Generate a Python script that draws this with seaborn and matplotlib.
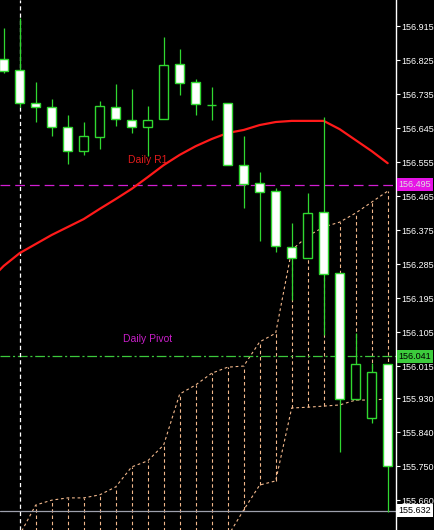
import matplotlib
matplotlib.use('Agg')
import matplotlib.pyplot as plt
import matplotlib.transforms as mtransforms
import seaborn as sns
import pandas as pd

# candles (H1 bars), prices
bars = list(range(25))
opens = [156.828, 156.799, 156.711, 156.701, 156.648, 156.584, 156.621, 156.701, 156.666, 156.648,
         156.669, 156.814, 156.767, 156.706, 156.711, 156.547, 156.499, 156.478, 156.330, 156.301,
         156.423, 156.261, 155.928, 155.877, 156.020]
highs = [156.910, 156.936, 156.767, 156.722, 156.679, 156.661, 156.717, 156.761, 156.748, 156.703,
         156.886, 156.854, 156.775, 156.754, 156.711, 156.624, 156.528, 156.486, 156.394, 156.473,
         156.674, 156.261, 156.102, 156.023, 156.020]
lows = [156.791, 156.701, 156.661, 156.624, 156.550, 156.574, 156.589, 156.650, 156.632, 156.571,
        156.669, 156.732, 156.679, 156.666, 156.547, 156.433, 156.346, 156.317, 156.190, 156.301,
        156.097, 155.787, 155.928, 155.864, 155.628]
closes = [156.796, 156.711, 156.701, 156.648, 156.584, 156.624, 156.703, 156.669, 156.648, 156.666,
          156.812, 156.764, 156.709, 156.706, 156.547, 156.497, 156.476, 156.333, 156.301, 156.420,
          156.259, 155.928, 156.020, 155.999, 155.750]

# moving average (starts one bar before the first visible candle)
ma_bars = list(range(-1, 25))
ma = [156.237, 156.280, 156.314, 156.338, 156.362, 156.383, 156.404, 156.431, 156.457, 156.484,
      156.515, 156.547, 156.574, 156.597, 156.616, 156.632, 156.640, 156.653, 156.661, 156.664,
      156.664, 156.664, 156.642, 156.613, 156.584, 156.552]

# ichimoku cloud edges
cloud_top = [155.500, 155.568, 155.647, 155.660, 155.666, 155.666, 155.674, 155.695, 155.748, 155.764,
             155.806, 155.941, 155.965, 155.996, 156.012, 156.015, 156.079, 156.102, 156.322, 156.359,
             156.383, 156.396, 156.420, 156.449, 156.478]
cloud_bottom = [155.450, 155.450, 155.450, 155.450, 155.450, 155.450, 155.450, 155.450, 155.450, 155.450,
                155.460, 155.480, 155.500, 155.530, 155.564, 155.634, 155.700, 155.711, 155.904, 155.906,
                155.909, 155.912, 155.925, 155.925, 155.928]

price_ticks = [156.915, 156.825, 156.735, 156.645, 156.555, 156.465, 156.375, 156.285, 156.195,
               156.105, 156.015, 155.930, 155.840, 155.750, 155.660]
tick_labels = ['156.915', '156.825', '156.735', '156.645', '156.555', '156.465', '156.375', '156.285',
               '156.195', '156.105', '156.015', '155.930', '155.840', '155.750', '155.660']

daily_r1 = 156.495
daily_pivot = 156.041
bid = 155.632
day_start = 1

df = pd.DataFrame({'bar': bars, 'open': opens, 'high': highs, 'low': lows, 'close': closes})
df['body_low'] = df[['open', 'close']].min(axis=1)
df['body_h'] = (df['open'] - df['close']).abs()
df['fill'] = ['white' if c < o else 'black' for o, c in zip(df['open'], df['close'])]

sns.set_theme(style='dark', rc={'axes.facecolor': 'black', 'figure.facecolor': 'black',
                                'lines.scale_dashes': False})
plt.rcParams['font.family'] = ['Liberation Sans', 'DejaVu Sans']

fig = plt.figure(figsize=(4.35, 5.30), dpi=100)
ax = fig.add_axes([0, 0, 396 / 435, 1])
ax.set_facecolor('black')

cloud_col = '#f2b88c'
green = '#30d830'

# cloud hatch + edges
ax.vlines(bars, cloud_bottom, cloud_top, colors=cloud_col, linestyles=(0, (2.5, 2)), lw=0.8, zorder=1)
sns.lineplot(x=bars, y=cloud_top, color=cloud_col, lw=0.8, linestyle=(0, (2, 2)), ax=ax, zorder=1)
sns.lineplot(x=bars, y=cloud_bottom, color=cloud_col, lw=0.8, linestyle=(0, (2, 2)), ax=ax, zorder=1)

# levels
ax.axhline(daily_r1, color='#d21ed2', lw=0.9, ls=(0, (7, 3.6)), zorder=2)
ax.axhline(daily_pivot, color='#3cc83c', lw=0.9, ls=(0, (7, 2, 1.5, 2)), zorder=2)
ax.axhline(bid, color='#9ea0ad', lw=0.9, zorder=2)
ax.axvline(day_start, color='white', lw=0.9, ls=(0, (3, 2.2)), zorder=2)

# moving average
sns.lineplot(x=ma_bars, y=ma, color='#ff1a1a', lw=1.6, ax=ax, zorder=3)

# candles
ax.vlines(df['bar'], df['low'], df['high'], colors=green, lw=0.9, zorder=4)
ax.bar(df['bar'], df['body_h'], bottom=df['body_low'], width=0.6, color=df['fill'],
       edgecolor=green, linewidth=1, zorder=5)

ax.text(7.8, 156.560, 'Daily R1', color='#e01b1b', fontsize=7.5, va='center', ha='left', zorder=6)
ax.text(7.45, 156.086, 'Daily Pivot', color='#c81ec8', fontsize=7.5, va='center', ha='left', zorder=6)

ax.set_xlim(-0.23, 24.52)
ax.set_ylim(155.581, 156.984)
ax.set_xlabel('')
ax.set_ylabel('')
ax.set_xticks([])
ax.yaxis.tick_right()
ax.set_yticks(price_ticks)
ax.set_yticklabels(tick_labels)
ax.tick_params(axis='y', colors='white', labelcolor='white', labelsize=6.5, length=3, width=0.8, pad=1)
ax.grid(False)
for side in ['left', 'top', 'bottom']:
    ax.spines[side].set_visible(False)
ax.spines['right'].set_color('white')
ax.spines['right'].set_linewidth(1)

# price labels on the axis
trans = mtransforms.blended_transform_factory(ax.transAxes, ax.transData)
for val, bg, fg in [(daily_r1, '#e614e6', '#e0e0e0'), (daily_pivot, '#3ccc3c', 'black'), (bid, 'white', 'black')]:
    ax.text(1.006, val, f'{val:.3f}', transform=trans, color=fg, fontsize=6.5, va='center', ha='left',
            zorder=10, clip_on=False,
            bbox=dict(boxstyle='square,pad=0.2', facecolor=bg, edgecolor='none'))

fig.savefig('out.png', dpi=100, facecolor='black')
